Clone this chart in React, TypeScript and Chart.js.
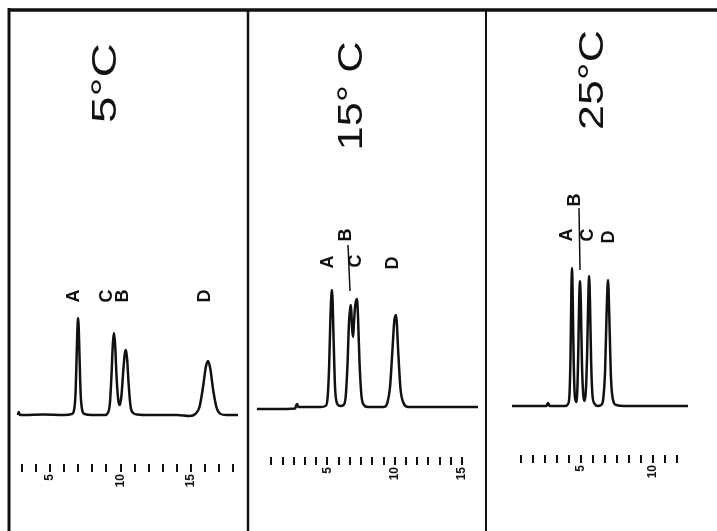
import React, { useEffect, useRef } from 'react';
import { Chart, registerables } from 'chart.js';

Chart.register(...registerables);

const WIDTH = 717;
const HEIGHT = 531;

// ---------- data ----------
const TITLES = ['5°C', '15° C', '25°C'];

// Panel 1 : 5 °C  (time in min, detector response)
const TIME_1 = [2.73, 2.78, 2.86, 3.2, 4.5, 6.0, 6.55, 6.72, 6.82, 6.9, 6.96, 6.99, 7.03, 7.09, 7.17, 7.28, 7.45, 8.0, 8.9, 9.1, 9.25, 9.36, 9.46, 9.54, 9.62, 9.72, 9.84, 9.95, 10.07, 10.2, 10.31, 10.39, 10.47, 10.58, 10.72, 10.9, 11.2, 12.0, 14.0, 14.9, 15.3, 15.6, 15.85, 16.05, 16.21, 16.37, 16.58, 16.82, 17.1, 17.5, 18.33];
const RESP_1 = [0, 3, 0, 0, 0.5, 0, 1, 6, 25, 65, 92, 97, 90, 60, 22, 5, 1, 0, 0, 2, 12, 40, 72, 82, 70, 38, 15, 10, 20, 45, 62, 65, 56, 30, 8, 2, 0.5, 0, 0, -1, 1, 8, 28, 48, 54, 46, 24, 7, 1, 0, 0];
const PEAKS_1 = ['A', 'C', 'B', 'D'];
const PEAK_TIMES_1 = [6.99, 9.54, 10.39, 16.21];
const TICKS_1 = [3, 4, 5, 6, 7, 8, 9, 10, 11, 12, 13, 14, 15, 16, 17, 18];
const TICK_LABELS_1 = [5, 10, 15];

// Panel 2 : 15 °C
const TIME_2 = [-0.25, 1.0, 2.6, 2.68, 2.75, 2.82, 3.2, 4.5, 4.85, 5.0, 5.12, 5.22, 5.29, 5.33, 5.37, 5.45, 5.56, 5.7, 5.95, 6.2, 6.35, 6.48, 6.6, 6.7, 6.75, 6.82, 6.9, 6.97, 7.05, 7.12, 7.19, 7.27, 7.38, 7.52, 7.7, 8.0, 9.2, 9.45, 9.65, 9.82, 9.96, 10.04, 10.09, 10.15, 10.26, 10.43, 10.65, 11.0, 16.19];
const RESP_2 = [-2, -2, -1.5, 2, 3, 0, 0, 0, 1, 8, 40, 90, 112, 117, 110, 70, 20, 4, 1, 2, 10, 40, 85, 100, 102, 80, 70, 85, 100, 106, 108, 90, 45, 12, 2, 0, 0, 4, 20, 55, 85, 91, 92, 85, 55, 18, 4, 0, 0];
const PEAKS_2 = ['A', 'B', 'C', 'D'];
const PEAK_TIMES_2 = [5.33, 6.75, 7.19, 10.09];
const TICKS_2 = [0.83, 1.67, 2.5, 3.33, 4.17, 5, 5.83, 6.67, 7.5, 8.33, 9.17, 10, 10.83, 11.67, 12.5, 13.33, 14.17, 15];
const TICK_LABELS_2 = [5, 10, 15];

// Panel 3 : 25 °C
const TIME_3 = [0.21, 2.0, 2.6, 2.71, 2.82, 3.3, 3.9, 4.1, 4.2, 4.27, 4.33, 4.375, 4.42, 4.49, 4.57, 4.66, 4.74, 4.81, 4.87, 4.93, 4.99, 5.06, 5.15, 5.24, 5.33, 5.42, 5.5, 5.56, 5.62, 5.7, 5.8, 5.95, 6.15, 6.4, 6.55, 6.67, 6.77, 6.84, 6.875, 6.91, 6.98, 7.08, 7.22, 7.45, 8.0, 12.43];
const RESP_3 = [0, 0, 0, 3, 0, 0, 0, 2, 12, 50, 115, 138, 110, 45, 10, 4, 15, 55, 105, 125, 100, 45, 12, 5, 14, 50, 105, 130, 105, 45, 10, 2, 0, 1, 8, 35, 90, 120, 126, 118, 80, 28, 6, 1, 0, 0];
const PEAKS_3 = ['A', 'B', 'C', 'D'];
const PEAK_TIMES_3 = [4.375, 4.93, 5.56, 6.875];
const TICKS_3 = [0.83, 1.67, 2.5, 3.33, 4.17, 5, 5.83, 6.67, 7.5, 8.33, 9.17, 10, 10.83, 11.67];
const TICK_LABELS_3 = [5, 10];

// ---------- layout (positions / styles) ----------
const PANELS = [
  {
    time: TIME_1, resp: RESP_1, peaks: PEAKS_1, peakTimes: PEAK_TIMES_1, ticks: TICKS_1, tickLabels: TICK_LABELS_1,
    left: 10, right: 248, xMin: 2.163, xMax: 19.04, yMin: -49, yMax: 415, axisTop: 464,
    title: { x: 106, y: 83, len: 80 },
    labelY: [296, 296, 296, 296], labelDx: [-4, -7, -3, -3], connector: null as null | number[],
  },
  {
    time: TIME_2, resp: RESP_2, peaks: PEAKS_2, peakTimes: PEAK_TIMES_2, ticks: TICKS_2, tickLabels: TICK_LABELS_2,
    left: 248, right: 487, xMin: -0.911, xMax: 16.86, yMin: -50, yMax: 407, axisTop: 457,
    title: { x: 352, y: 96, len: 109 },
    labelY: [262, 235, 261, 263], labelDx: [-4, -5, -1, -3], connector: [348, 245, 350, 291],
  },
  {
    time: TIME_3, resp: RESP_3, peaks: PEAKS_3, peakTimes: PEAK_TIMES_3, ticks: TICKS_3, tickLabels: TICK_LABELS_3,
    left: 487, right: 717, xMin: -1.528, xMax: 14.44, yMin: -49, yMax: 406, axisTop: 455,
    title: { x: 593, y: 80, len: 100 },
    labelY: [235, 200, 235, 237], labelDx: [-5, -5, -1, 1], connector: [579, 208, 580, 270],
  },
];

const INK = '#111111';
const FONT = '"Liberation Sans", Arial, Helvetica, sans-serif';

function PanelChart({ index }: { index: number }) {
  const ref = useRef<HTMLCanvasElement | null>(null);

  useEffect(() => {
    const p = PANELS[index];
    const canvas = ref.current;
    if (!canvas) return;

    const annotations = {
      id: 'annotations' + index,
      afterDraw(chart: any) {
        const ctx = chart.ctx as CanvasRenderingContext2D;
        const xs = chart.scales.x;
        ctx.save();
        ctx.fillStyle = INK;
        ctx.strokeStyle = INK;

        // frame (drawn once, by first panel)
        if (index === 0) {
          ctx.lineCap = 'butt';
          ctx.lineWidth = 3.5;
          ctx.beginPath();
          ctx.moveTo(8, 10);
          ctx.lineTo(WIDTH, 10);
          ctx.stroke();
          ctx.lineWidth = 3;
          ctx.beginPath();
          ctx.moveTo(9, 8);
          ctx.lineTo(9, HEIGHT);
          ctx.stroke();
          ctx.lineWidth = 2.5;
          ctx.beginPath();
          ctx.moveTo(248, 10);
          ctx.lineTo(248, HEIGHT);
          ctx.stroke();
          ctx.lineWidth = 2;
          ctx.beginPath();
          ctx.moveTo(486, 10);
          ctx.lineTo(486, HEIGHT);
          ctx.stroke();
        }

        // title (rotated)
        ctx.font = '35px ' + FONT;
        const text = TITLES[index];
        const w = ctx.measureText(text).width;
        ctx.save();
        ctx.translate(p.title.x, p.title.y);
        ctx.rotate(-Math.PI / 2);
        ctx.scale(p.title.len / w, 1);
        ctx.textAlign = 'center';
        ctx.textBaseline = 'middle';
        ctx.fillText(text, 0, 0);
        ctx.restore();

        // peak labels (rotated)
        ctx.font = 'bold 18px ' + FONT;
        p.peaks.forEach((name, i) => {
          const x = xs.getPixelForValue(p.peakTimes[i]) + p.labelDx[i];
          ctx.save();
          ctx.translate(x, p.labelY[i]);
          ctx.rotate(-Math.PI / 2);
          ctx.textAlign = 'center';
          ctx.textBaseline = 'middle';
          ctx.fillText(name, 0, 0);
          ctx.restore();
        });

        if (p.connector) {
          ctx.lineWidth = 1.5;
          ctx.beginPath();
          ctx.moveTo(p.connector[0], p.connector[1]);
          ctx.lineTo(p.connector[2], p.connector[3]);
          ctx.stroke();
        }
        ctx.restore();
      },
    };

    const chart = new Chart(canvas, {
      type: 'line',
      data: {
        datasets: [
          {
            data: p.time.map((t, i) => ({ x: t, y: p.resp[i] })),
            borderColor: INK,
            borderWidth: 2.5,
            pointRadius: 0,
            fill: false,
            cubicInterpolationMode: 'monotone',
          },
        ],
      },
      options: {
        animation: false,
        responsive: false,
        devicePixelRatio: 1,
        events: [],
        layout: { padding: { left: p.left, right: WIDTH - p.right, top: 0, bottom: 0 } },
        plugins: { legend: { display: false }, tooltip: { enabled: false }, title: { display: false } },
        scales: {
          x: {
            type: 'linear',
            min: p.xMin,
            max: p.xMax,
            afterBuildTicks: (scale: any) => {
              scale.ticks = p.ticks.map((v) => ({ value: v }));
            },
            afterFit: (scale: any) => {
              scale.height = HEIGHT - p.axisTop;
            },
            border: { display: false },
            grid: {
              drawOnChartArea: false,
              drawTicks: true,
              tickLength: 8,
              lineWidth: 2,
              color: INK,
            },
            ticks: {
              autoSkip: false,
              minRotation: 90,
              maxRotation: 90,
              padding: 2,
              color: INK,
              font: { family: FONT, size: 12, weight: 'bold' },
              callback: (v: any) => {
                const val = Number(v);
                return p.tickLabels.some((l) => Math.abs(l - val) < 1e-6) ? String(Math.round(val)) : '';
              },
            },
          },
          y: {
            type: 'linear',
            display: false,
            min: p.yMin,
            max: p.yMax,
          },
        },
      },
      plugins: [annotations],
    } as any);

    return () => chart.destroy();
  }, [index]);

  return (
    <canvas
      ref={ref}
      width={WIDTH}
      height={HEIGHT}
      style={{ position: 'absolute', left: 0, top: 0, width: WIDTH, height: HEIGHT }}
    />
  );
}

export default function App() {
  return (
    <div style={{ position: 'fixed', left: 0, top: 0, width: WIDTH, height: HEIGHT, background: '#ffffff' }}>
      {PANELS.map((_, i) => (
        <PanelChart key={i} index={i} />
      ))}
    </div>
  );
}
